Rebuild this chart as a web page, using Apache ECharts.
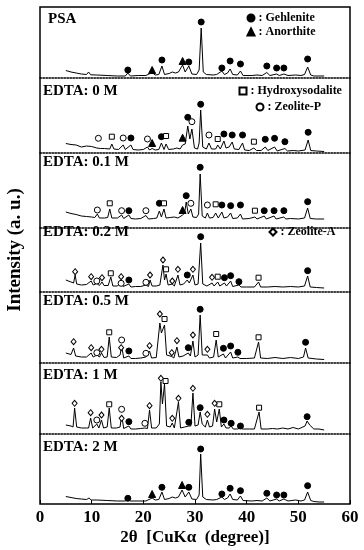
<!DOCTYPE html>
<html><head><meta charset="utf-8">
<script src="https://cdn.jsdelivr.net/npm/echarts@6/dist/echarts.min.js"></script>
<style>html,body{margin:0;padding:0;background:#fff}#c{width:364px;height:550px}</style>
</head><body><div id="c"></div>
<script>
// ---------- DATA ----------
const panelLabels = ['PSA','EDTA: 0 M','EDTA: 0.1 M','EDTA: 0.2 M','EDTA: 0.5 M','EDTA: 1 M','EDTA: 2 M'];
const xTickValues = [0,10,20,30,40,50,60];
const xTitle = '2\u03b8  [CuK\u03b1  (degree)]';
const yTitle = 'Intensity (a. u.)';

// patterns: [2theta, intensity (a.u.)]
const psaPattern = [[5,7.5],[6,6],[7,5],[8,4],[9,3.5],[9.4,6],[9.8,3.2],[11,3],[13,2.5],[15,2],[16.5,2],[17,5],[17.5,2],[19,2.5],[20.5,2.5],[21.7,5.5],[22.3,3],[23,3.5],[23.6,12],[24.1,3.5],[25,4.5],[25.6,6],[26.2,5],[26.8,6],[27.6,13],[28.1,6],[28.8,12],[29.4,4],[30.3,3.5],[30.8,8],[31.2,50],[31.6,6],[32.2,3.5],[33.5,3],[34.2,3.5],[35.2,7],[35.7,3.5],[36.3,5],[36.8,9],[37.3,3.5],[38.2,3],[38.8,7],[39.3,2.5],[41,2.5],[42,3],[43,2.5],[43.9,5.5],[44.5,2.5],[45.8,4],[46.3,2.5],[47.2,4],[48,2.5],[49.5,3],[50.5,2.5],[51.2,3.5],[51.8,11],[52.4,3],[53,2],[54,2],[55,2]];
const edta0Pattern = [[5,9.5],[6,8.5],[7,8],[8,6],[9,7],[10,6.5],[11,5],[11.3,7],[11.7,4.5],[12.5,4.5],[13.5,4],[13.9,9],[14.3,4],[15.2,3.5],[16.1,8],[16.5,3.5],[17.6,8],[18,3.5],[19,3],[20,3.5],[20.8,6],[21.2,3],[21.7,4.5],[22.3,3],[23,3.5],[23.5,10],[24,3.5],[24.4,9],[24.9,3.5],[25.8,4],[26.5,5],[27.1,4],[27.6,8],[28.1,9],[28.6,27],[29,14],[29.4,24],[29.9,5],[30.5,4],[30.8,10],[31.1,43],[31.5,6],[32.2,4],[32.7,10],[33.2,4],[34,4],[34.4,8],[34.9,4],[35.6,12],[36,5],[36.6,6],[37.2,11],[37.6,4],[38.5,3.5],[39.2,10],[39.6,3],[40.5,2.5],[41.4,5],[41.9,2.5],[42.8,2.5],[43.6,6],[44.1,2.5],[45.4,6],[45.9,2],[47.4,4.5],[47.9,2],[49,2.5],[50,2],[51.3,3],[51.9,13],[52.4,2.5],[53.5,2],[55,1.5]];
const edta01Pattern = [[5,16],[6,14.5],[7,13.5],[8,12],[9,11.5],[10,11],[10.6,10.5],[11.1,14],[11.5,10],[12.5,10],[13.1,10.5],[13.5,19],[13.9,10],[15,10],[15.8,13],[16.2,9.5],[17.2,13],[17.6,9.5],[18.5,9],[19.5,9.5],[20.5,12.5],[21,9],[22,9.5],[22.6,10],[23.1,17],[23.5,11],[24,19],[24.4,10],[25.2,10.5],[26,11],[26.7,10],[27.6,13],[28,15],[28.3,26],[28.7,14],[29.2,19],[29.6,11],[30.3,10.5],[30.7,14],[31.0,54],[31.4,12],[32,10],[32.4,15],[32.8,10],[33.5,10.5],[34,15],[34.5,10],[35.2,16],[35.6,10],[36.3,11],[36.9,15],[37.3,9.5],[38.2,10],[38.8,14],[39.2,9],[40.5,9.5],[41.6,11],[42,9],[43.4,12],[43.8,9],[45.3,12],[45.7,9],[47.2,11],[47.6,9],[48.5,9.5],[50,9],[51.2,10],[51.8,20],[52.3,9.5],[53.5,9],[55,9]];
const edta02Pattern = [[5,12],[6,10],[6.5,9],[6.8,17],[7.1,8],[8,7],[9,7.5],[9.9,11],[10.3,7],[11,8.5],[11.5,6.5],[12,10],[12.4,6.5],[13.2,6.5],[13.7,15],[14.1,6],[15,6],[15.7,11],[16.1,5.5],[17.2,8],[17.6,5],[18.5,5.5],[19.5,5.5],[20.5,7],[21,5.5],[21.3,12],[21.7,6],[22.5,6],[23.2,7],[23.8,27],[24.1,12],[24.4,18],[24.8,7],[25.6,8],[26,6],[26.7,17],[27.1,7],[27.8,8],[28.5,12],[28.9,9],[29.6,17],[30,7],[30.6,8],[31.1,49],[31.5,8],[32.3,6],[33.3,9],[33.7,6],[34.4,10],[34.8,6],[35.7,9],[36.1,6],[36.9,11],[37.3,5.5],[38.5,7],[38.9,5],[40,5],[41.5,5],[42.3,10],[42.7,5],[44,5],[45.5,5.5],[47,5],[48.5,5.5],[50,5],[51.2,6],[51.8,16],[52.3,5],[53.5,4.5],[55,4]];
const edta05Pattern = [[5,10],[6,8.5],[6.5,15],[6.9,7],[8,6],[9,6],[9.9,10],[10.3,6],[11,8],[11.5,6],[11.9,10],[12.4,5.5],[13,6],[13.4,26],[13.8,6],[14.8,5.5],[15.5,8],[15.8,17],[16.2,5],[17.2,7],[17.6,4.5],[18.5,4.5],[19.5,5],[20.5,6],[21.2,12],[21.6,5],[22.5,5.5],[23.2,40],[23.5,30],[24.1,38],[24.5,8],[25.5,6.5],[25.9,5],[26.5,16],[26.9,6],[27.7,7],[28.7,10],[29.1,7],[29.6,22],[30,6],[30.6,8],[31.0,48],[31.4,8],[32.4,8],[32.8,5],[33.6,6],[34.1,23],[34.5,6],[35.5,9],[35.9,5],[36.9,11],[37.3,5],[38.3,6],[38.7,4.5],[40,4.5],[41.5,5],[42.3,21],[42.7,5],[44,4.5],[45.5,5.5],[47,4.5],[48.5,5.5],[50,4.5],[51,6],[51.4,15],[51.9,5],[53.5,4],[55,3.5]];
const edta1Pattern = [[5,9],[6,8],[6.4,7],[6.7,26],[7.1,7],[8,6],[9,6],[9.4,6],[9.8,16],[10.2,6],[11,10],[11.4,6],[11.9,14],[12.3,6],[13,7],[13.4,26],[13.8,6],[14.8,6],[15.5,7],[15.8,19],[16.2,5.5],[17.2,8],[17.6,5],[18.5,5],[19.5,5.5],[20.3,6],[20.8,5.5],[21.2,24],[21.6,6],[22.5,6],[23.1,10],[23.4,52],[23.7,30],[24.1,50],[24.5,8],[25.2,7],[25.6,11],[26,6],[26.8,32],[27.2,6],[28,7],[28.8,8],[29.2,8],[29.6,41],[30,8],[30.6,9],[31.0,22],[31.4,10],[32,7],[32.4,14],[32.8,7],[33.4,8],[33.8,25],[34.2,12],[34.7,25],[35.1,7],[35.6,10],[36,6],[36.6,6],[37,8],[37.4,5],[38.2,5],[38.8,6],[39.2,5],[40.5,5],[41.5,5],[42.4,22],[42.8,5],[44,5],[45,5.5],[46,5],[47,6],[48,5],[49,6.5],[50,5],[51.3,8],[51.7,13],[52.2,9],[53,5],[54,5],[55,4]];
const edta2Pattern = [[5,7.5],[6,6.5],[7,5.5],[8,5],[9,4.5],[9.5,6],[9.9,4],[11,4],[13,3.5],[15,3],[16.5,3],[17,5],[17.5,3],[19,3],[20.5,3],[21.7,6],[22.3,4],[23,4.5],[23.6,12],[24.1,4.5],[25,5.5],[25.6,7],[26.2,6],[26.8,7],[27.5,14],[28.1,7],[28.8,12],[29.4,5],[30.3,4.5],[30.8,9],[31.1,50],[31.5,7],[32.2,4.5],[33.5,4],[34.2,4.5],[35.2,7],[35.7,4.5],[36.3,6],[36.8,10],[37.3,4.5],[38.2,4],[38.8,8],[39.3,3.5],[41,3],[42,3.5],[43,3],[43.9,6],[44.5,3],[45.8,5],[46.3,3],[47.2,5],[48,3],[49.5,4],[50.5,3],[51.2,4],[51.8,12],[52.4,3.5],[53,2.5],[54,2],[55,2]];

// phase markers: [2theta, marker height (a.u.)]
const psaGehlenite = [[17.0,8],[23.6,18],[28.8,16],[31.2,56],[35.2,10],[36.8,17],[38.8,14],[43.9,12],[45.8,10],[47.2,10],[51.8,19]];
const psaAnorthite = [[21.7,8],[27.6,17]];
const edta0Gehlenite = [[17.6,15],[23.5,16.3],[28.6,35.7],[31.1,48.7],[35.6,19],[37.2,18],[39.2,18],[43.6,13.7],[45.4,14.7],[47.4,11.3],[51.9,20.7]];
const edta0Anorthite = [[21.7,10],[27.6,15.3]];
const edta0Hydroxysodalite = [[13.9,16.3],[24.4,17],[34.4,14],[41.4,11.3]];
const edta0ZeoliteP = [[11.3,14.7],[16.1,15],[20.8,14],[29.4,31.3],[32.7,18]];
const edta01Gehlenite = [[17.2,17.3],[23.1,24.7],[28.3,32.3],[31.0,60.7],[35.2,23],[36.9,22.3],[38.8,23],[43.4,17.3],[45.3,17.3],[47.2,17.3],[51.8,26.3]];
const edta01Anorthite = [[27.6,18]];
const edta01Hydroxysodalite = [[13.5,24.7],[24.0,24.7],[34.0,23.7],[41.6,17.3]];
const edta01ZeoliteP = [[11.1,18],[15.8,17.3],[20.5,17.3],[29.2,24.7],[32.4,23]];
const edta02Gehlenite = [[17.2,12],[28.5,17],[31.1,55.3],[35.7,14.3],[36.9,16.3],[38.5,10.3],[51.8,21.3]];
const edta02Hydroxysodalite = [[13.7,18.7],[24.4,22.7],[34.4,15.3],[42.3,14.3]];
const edta02ZeoliteP = [[11.0,11],[15.7,8.7],[20.5,9.7]];
const edta02ZeoliteA = [[6.8,20.3],[9.9,15.3],[12.0,14.3],[15.7,15.3],[21.3,17],[23.8,32],[25.6,11],[26.7,22.7],[29.6,22.7],[33.3,14.7]];
const edta05Gehlenite = [[17.2,12],[28.7,15.3],[31.0,53.7],[35.5,14.7],[36.9,17],[38.3,10.7],[51.4,20.7]];
const edta05Hydroxysodalite = [[13.4,30.7],[24.1,44],[34.1,29],[42.3,25.7]];
const edta05ZeoliteP = [[11.0,10.3],[15.8,23],[20.5,9.7]];
const edta05ZeoliteA = [[6.5,21.3],[9.9,15.3],[11.9,13.7],[15.7,15.3],[21.2,17.3],[23.2,49],[25.5,10.3],[26.5,22.3],[29.6,28],[32.4,13.7]];
const edta1Gehlenite = [[17.2,12.3],[28.8,11.7],[31.0,26.3],[35.6,14],[37.0,10.7],[38.8,8],[51.7,17.3]];
const edta1Hydroxysodalite = [[13.4,29.7],[24.3,53],[34.7,29.7],[42.4,26.3]];
const edta1ZeoliteP = [[11.0,14],[15.8,24.7],[20.3,10.7]];
const edta1ZeoliteA = [[6.7,30.7],[9.8,21.3],[11.9,19],[15.8,15.7],[21.2,28.3],[23.4,55.7],[25.6,15.7],[26.8,35.7],[29.6,45.7],[32.4,19.7],[33.8,30.7]];
const edta2Gehlenite = [[17.0,5.7],[23.6,16.7],[28.8,16.7],[31.1,55],[35.2,10],[36.8,15.7],[38.8,13.3],[43.9,10.7],[45.8,9],[47.2,9],[51.8,18.3]];
const edta2Anorthite = [[21.7,10],[27.5,19]];

// ---------- LAYOUT / STYLE ----------
const F = '"Liberation Serif", "Times New Roman", serif';
const tops = [7,78,153,228,292,363,434];
const hts  = [71,75,75,64,71,71,70];
const labelTops = [12,84,155,225,294,368,440];
const labelLefts = [48,43,43,43,43,43,43];
const patterns = [psaPattern, edta0Pattern, edta01Pattern, edta02Pattern, edta05Pattern, edta1Pattern, edta2Pattern];
const markerSets = [
  [0,'Gehlenite',psaGehlenite],[0,'Anorthite',psaAnorthite],
  [1,'Gehlenite',edta0Gehlenite],[1,'Anorthite',edta0Anorthite],[1,'Hydroxysodalite',edta0Hydroxysodalite],[1,'Zeolite-P',edta0ZeoliteP],
  [2,'Gehlenite',edta01Gehlenite],[2,'Anorthite',edta01Anorthite],[2,'Hydroxysodalite',edta01Hydroxysodalite],[2,'Zeolite-P',edta01ZeoliteP],
  [3,'Gehlenite',edta02Gehlenite],[3,'Hydroxysodalite',edta02Hydroxysodalite],[3,'Zeolite-P',edta02ZeoliteP],[3,'Zeolite-A',edta02ZeoliteA],
  [4,'Gehlenite',edta05Gehlenite],[4,'Hydroxysodalite',edta05Hydroxysodalite],[4,'Zeolite-P',edta05ZeoliteP],[4,'Zeolite-A',edta05ZeoliteA],
  [5,'Gehlenite',edta1Gehlenite],[5,'Hydroxysodalite',edta1Hydroxysodalite],[5,'Zeolite-P',edta1ZeoliteP],[5,'Zeolite-A',edta1ZeoliteA],
  [6,'Gehlenite',edta2Gehlenite],[6,'Anorthite',edta2Anorthite]
];
const phaseStyle = {
  'Gehlenite':      {symbol:'circle',  size:6,     fill:'#000'},
  'Anorthite':      {symbol:'triangle',size:7,     fill:'#000'},
  'Hydroxysodalite':{symbol:'rect',    size:5,     fill:'#fff'},
  'Zeolite-P':      {symbol:'circle',  size:6,     fill:'#fff'},
  'Zeolite-A':      {symbol:'diamond', size:[5,6], fill:'#fff'}
};

const chart = echarts.init(document.getElementById('c'), null, {renderer:'canvas'});
const grid = tops.map((t,i)=>({left:40, right:14, top:t, height:hts[i]}));
const xAxis = tops.map((t,i)=>{
  const last = i === tops.length-1;
  return {
    gridIndex:i, type:'value', min:0, max:60, interval:10,
    axisLine:{show:!last, onZero:false, lineStyle:{color:'#000', width:1.5, type:[1.5,1.5]}},
    axisTick:{show:last, inside:true, length:4, lineStyle:{color:'#000', width:1}},
    axisLabel:{show:last, margin:5, fontFamily:F, fontWeight:'bold', fontSize:17, color:'#000',
      formatter:v=> xTickValues.includes(v) ? String(v) : ''},
    splitLine:{show:false},
    name: last ? xTitle : '', nameLocation:'middle', nameGap:25,
    nameTextStyle:{fontFamily:F, fontWeight:'bold', fontSize:17, color:'#000'}
  };
});
const yAxis = tops.map((t,i)=>({gridIndex:i, type:'value', min:0, max:hts[i], show:false}));

const series = [];
patterns.forEach((p,i)=>{
  series.push({type:'line', xAxisIndex:i, yAxisIndex:i, data:p, showSymbol:false, symbol:'none',
    lineStyle:{color:'#000', width:1}, z:2, silent:true});
});
markerSets.forEach(([pi,name,data])=>{
  const st = phaseStyle[name];
  series.push({type:'scatter', name, xAxisIndex:pi, yAxisIndex:pi, data, symbol:st.symbol, symbolSize:st.size,
    itemStyle:{color:st.fill, borderColor:'#000', borderWidth:1, opacity:1}, z:3, silent:true});
});

function leg(name, left, top){
  return {data:[name], left, top, orient:'horizontal', padding:0, itemWidth:7, itemHeight:7, itemGap:0,
    selectedMode:false, formatter:': {name}',
    textStyle:{fontFamily:F, fontWeight:'bold', fontSize:12, color:'#000', padding:[0,0,0,-1]}};
}
const legend = [
  leg('Gehlenite',246.5,12), leg('Anorthite',246.5,26),
  leg('Hydroxysodalite',238.5,85), leg('Zeolite-P',255.5,101),
  leg('Zeolite-A',268.5,226)
];
const title = panelLabels.map((t,i)=>({text:t, left:labelLefts[i], top:labelTops[i], padding:0,
  textStyle:{fontFamily:F, fontWeight:'bold', fontSize:15, color:'#000'}}));

chart.setOption({
  animation:false, backgroundColor:'#fff',
  title, legend, grid, xAxis, yAxis, series,
  graphic:[
    {type:'rect', shape:{x:40, y:7, width:310, height:497}, style:{fill:'none', stroke:'#000', lineWidth:1.5}, z:10, silent:true},
    {type:'text', x:15, y:250, rotation:Math.PI/2, style:{text:yTitle, fontFamily:F, fontWeight:'bold', fontSize:19, fill:'#000', align:'center', verticalAlign:'middle'}, silent:true}
  ]
});
</script></body></html>
